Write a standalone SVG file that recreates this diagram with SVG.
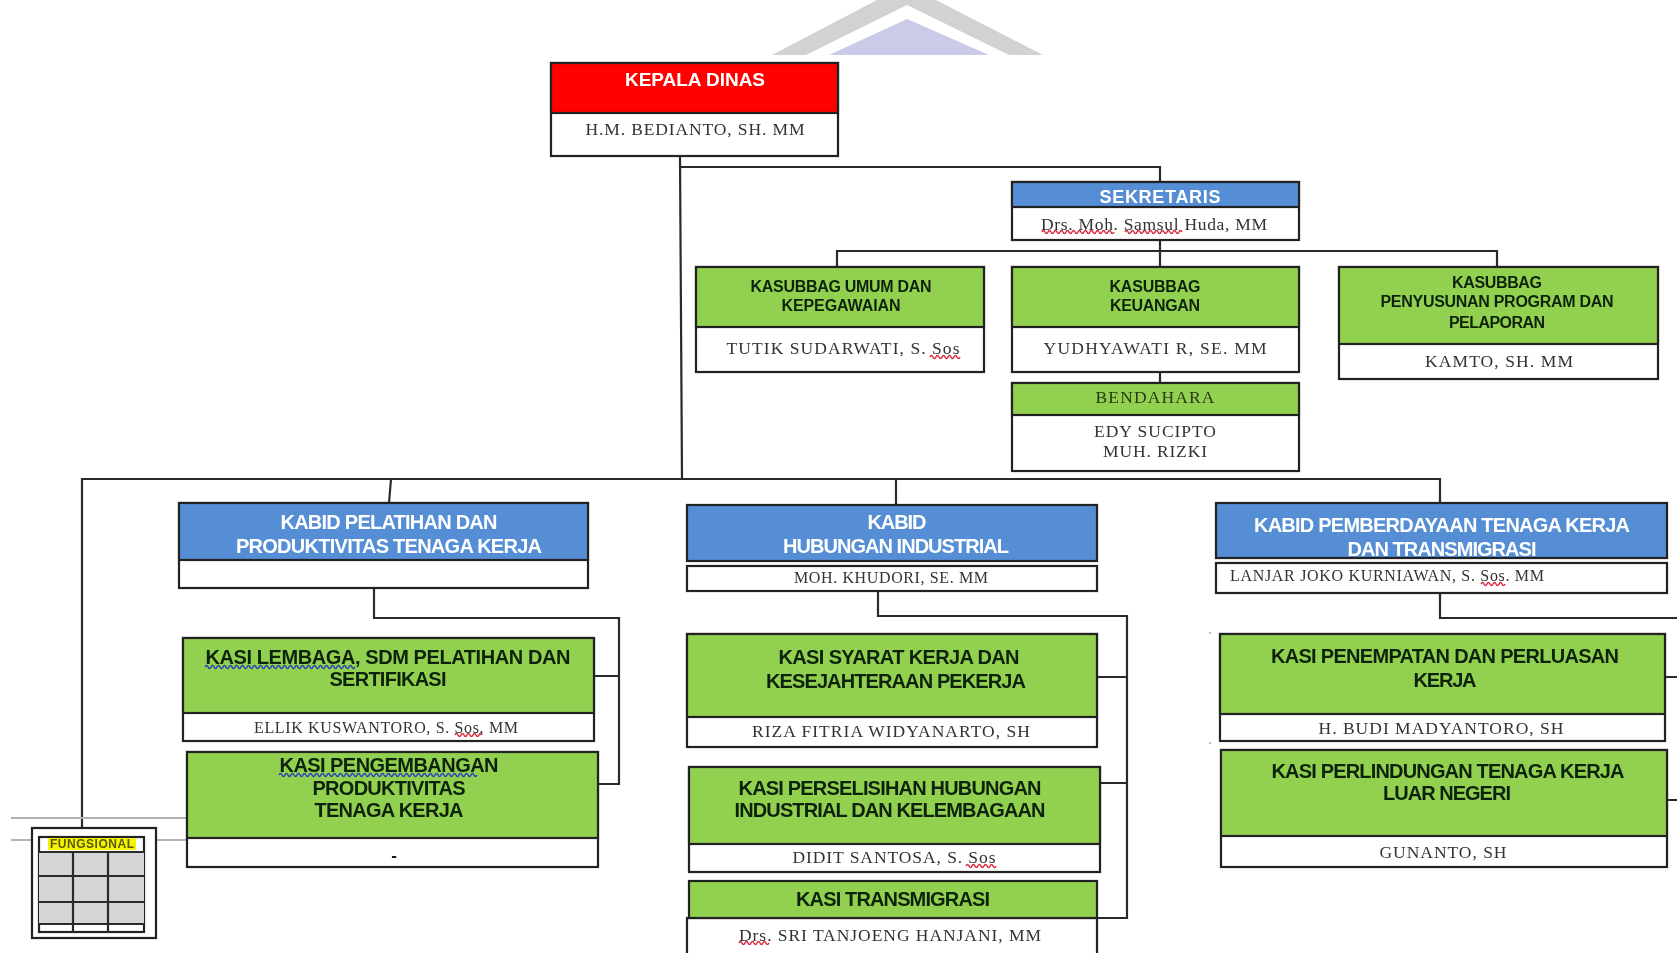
<svg xmlns="http://www.w3.org/2000/svg" width="1677" height="953" viewBox="0 0 1677 953">
<style>
text{text-anchor:middle}
.b{font-family:"Liberation Sans",Arial,sans-serif;font-weight:700}
.s{font-family:"Liberation Serif","Times New Roman",serif;fill:#333;font-size:17.5px;font-weight:400;stroke:none}
.w{fill:#fff;font-size:20px}
.k{fill:#10240a;font-size:20px}
.k2{fill:#10240a;font-size:16px}
.box{stroke:#222;stroke-width:2.2;fill:#fff}
.g{fill:#92d050}.bl{fill:#558ed5}.r{fill:#f00}
.c{fill:none;stroke:#2a2a2a;stroke-width:2.2}
.rw{fill:none;stroke:#d8283c;stroke-width:1.5}
.bw{fill:none;stroke:#2a3fc0;stroke-width:1.5}
</style>
<defs><filter id="soft" x="0" y="0" width="1677" height="953" filterUnits="userSpaceOnUse"><feGaussianBlur stdDeviation="0.7"/></filter></defs>
<rect width="1677" height="953" fill="#fff"/>
<g filter="url(#soft)">
<g id="logo">
<polygon points="772,55 877,0 936,0 1043,55 1009,55 907,5 806,55" fill="#d2d2d2"/>
<polygon points="829,55 907,19 989,55" fill="#c9cbe9"/>
</g>
<g id="connectors">
<path class="c" d="M680 156L682 479M680 167H1160V182"/>
<path class="c" d="M1160 240V267M837 267V251H1497V267M1160 372V383"/>
<path class="c" d="M82 837V479H1440V503M391 479L389 503M896 479V505"/>
<path class="c" d="M374 588V618H619V784H598M594 676H619"/>
<path class="c" d="M878 591V616H1127V918H1097M1097 677H1127M1100 783H1127"/>
<path class="c" d="M1440 593V618H1677M1661 677H1677M1667 800H1677"/>
<path d="M11 818H187M11 840H32M156 840H187" fill="none" stroke="#b4b4b4" stroke-width="2"/>
<circle cx="1210" cy="633" r="1" fill="#aaa"/><circle cx="1210" cy="743" r="1" fill="#aaa"/>
</g>
<g id="kepala"><rect class="box" x="551" y="63" width="287" height="93"/><rect class="box r" x="551" y="63" width="287" height="50"/>
<text class="b w" x="695" y="86" style="font-size:19px" textLength="140">KEPALA DINAS</text><text class="s" x="695" y="135" textLength="219">H.M. BEDIANTO, SH. MM</text></g>
<g id="sekretaris"><rect class="box" x="1012" y="182" width="287" height="58"/><rect class="box bl" x="1012" y="182" width="287" height="25"/>
<text class="b w" x="1160" y="203" style="font-size:18px" textLength="121">SEKRETARIS</text><text class="s" x="1154" y="230" textLength="226">Drs. Moh. Samsul Huda, MM</text>
<path class="rw" d="M1042 232q1.5 -3 3 0t3 0t3 0t3 0t3 0t3 0t3 0t3 0t3 0t3 0t3 0t3 0t3 0t3 0t3 0t3 0t3 0t3 0t3 0t3 0t3 0t3 0t3 0t3 0"/><path class="rw" d="M1125 232q1.5 -3 3 0t3 0t3 0t3 0t3 0t3 0t3 0t3 0t3 0t3 0t3 0t3 0t3 0t3 0t3 0t3 0t3 0t3 0t3 0"/></g>
<g id="kasubbag-umum"><rect class="box" x="696" y="267" width="288" height="105"/><rect class="box g" x="696" y="267" width="288" height="60"/>
<text class="b k2" x="841" y="292" textLength="181">KASUBBAG UMUM DAN</text><text class="b k2" x="841" y="311" textLength="119">KEPEGAWAIAN</text><text class="s" x="843" y="354" textLength="233">TUTIK SUDARWATI, S. Sos</text>
<path class="rw" d="M930 357q1.5 -3 3 0t3 0t3 0t3 0t3 0t3 0t3 0t3 0t3 0t3 0"/></g>
<g id="kasubbag-keuangan"><rect class="box" x="1012" y="267" width="287" height="105"/><rect class="box g" x="1012" y="267" width="287" height="60"/>
<text class="b k2" x="1155" y="292" textLength="91">KASUBBAG</text><text class="b k2" x="1155" y="311" textLength="90">KEUANGAN</text><text class="s" x="1155" y="354" textLength="223">YUDHYAWATI R, SE. MM</text></g>
<g id="kasubbag-program"><rect class="box" x="1339" y="267" width="319" height="112"/><rect class="box g" x="1339" y="267" width="319" height="77"/>
<text class="b k2" x="1497" y="288" textLength="90">KASUBBAG</text><text class="b k2" x="1497" y="307" textLength="233">PENYUSUNAN PROGRAM DAN</text><text class="b k2" x="1497" y="328" textLength="96">PELAPORAN</text><text class="s" x="1499" y="367" textLength="148">KAMTO, SH. MM</text></g>
<g id="bendahara"><rect class="box" x="1012" y="383" width="287" height="88"/><rect class="box g" x="1012" y="383" width="287" height="32"/>
<text class="s" x="1155" y="403" textLength="119" style="fill:#2a3a18">BENDAHARA</text><text class="s" x="1155" y="437" textLength="122">EDY SUCIPTO</text><text class="s" x="1155" y="457" textLength="104">MUH. RIZKI</text></g>
<g id="kabid-pelatihan"><rect class="box" x="179" y="503" width="409" height="85"/><rect class="box bl" x="179" y="503" width="409" height="57"/>
<text class="b w" x="389" y="529" textLength="217">KABID PELATIHAN DAN</text><text class="b w" x="389" y="553" textLength="306">PRODUKTIVITAS TENAGA KERJA</text></g>
<g id="kabid-hi"><rect class="box bl" x="687" y="505" width="410" height="56"/><rect class="box" x="687" y="566" width="410" height="25"/>
<text class="b w" x="897" y="529" textLength="59">KABID</text><text class="b w" x="896" y="553" textLength="226">HUBUNGAN INDUSTRIAL</text><text class="s" x="891" y="583" style="font-size:16px" textLength="194">MOH. KHUDORI, SE. MM</text></g>
<g id="kabid-pemberdayaan"><rect class="box bl" x="1216" y="503" width="451" height="55"/><rect class="box" x="1216" y="563" width="451" height="30"/>
<text class="b w" x="1442" y="532" textLength="376">KABID PEMBERDAYAAN TENAGA KERJA</text><text class="b w" x="1442" y="556" textLength="189">DAN TRANSMIGRASI</text><text class="s" x="1387" y="581" style="font-size:16px" textLength="314">LANJAR JOKO KURNIAWAN, S. Sos. MM</text>
<path class="rw" d="M1481 584q1.5 -3 3 0t3 0t3 0t3 0t3 0t3 0t3 0t3 0"/></g>
<g id="kasi-lembaga"><rect class="box" x="183" y="638" width="411" height="103"/><rect class="box g" x="183" y="638" width="411" height="75"/>
<text class="b k" x="388" y="664" textLength="365">KASI LEMBAGA, SDM  PELATIHAN DAN</text><text class="b k" x="388" y="686" textLength="117">SERTIFIKASI</text><text class="s" x="386" y="733" style="font-size:16px" textLength="264">ELLIK KUSWANTORO, S. Sos, MM</text>
<path class="bw" d="M205 667q1.5 -3 3 0t3 0t3 0t3 0t3 0t3 0t3 0t3 0t3 0t3 0t3 0t3 0t3 0t3 0t3 0t3 0t3 0t3 0t3 0t3 0t3 0t3 0t3 0t3 0t3 0t3 0t3 0t3 0t3 0t3 0t3 0t3 0t3 0t3 0t3 0t3 0t3 0t3 0t3 0t3 0t3 0t3 0t3 0t3 0t3 0t3 0t3 0t3 0t3 0t3 0"/>
<path class="rw" d="M455 735q1.5 -3 3 0t3 0t3 0t3 0t3 0t3 0t3 0t3 0t3 0"/></g>
<g id="kasi-pengembangan"><rect class="box" x="187" y="752" width="411" height="115"/><rect class="box g" x="187" y="752" width="411" height="86"/>
<text class="b k" x="389" y="772" textLength="219">KASI PENGEMBANGAN</text><text class="b k" x="389" y="795" textLength="153">PRODUKTIVITAS</text><text class="b k" x="389" y="817" textLength="149">TENAGA KERJA</text><text class="b k" x="394" y="861" style="font-size:17px">-</text>
<path class="bw" d="M279 775q1.5 -3 3 0t3 0t3 0t3 0t3 0t3 0t3 0t3 0t3 0t3 0t3 0t3 0t3 0t3 0t3 0t3 0t3 0t3 0t3 0t3 0t3 0t3 0t3 0t3 0t3 0t3 0t3 0t3 0t3 0t3 0t3 0t3 0t3 0t3 0t3 0t3 0t3 0t3 0t3 0t3 0t3 0t3 0t3 0t3 0t3 0t3 0t3 0t3 0t3 0t3 0t3 0t3 0t3 0t3 0t3 0t3 0t3 0t3 0t3 0t3 0t3 0t3 0t3 0t3 0t3 0t3 0"/></g>
<g id="fungsional"><rect class="box" x="32" y="828" width="124" height="110"/><rect class="box" x="39" y="837" width="105" height="95"/>
<rect x="48" y="838" width="88" height="12" fill="#f4f400"/><text class="b" x="92" y="848" font-size="12" fill="#5a5a10" textLength="84">FUNGSIONAL</text>
<rect x="39" y="852" width="105" height="72" fill="#d6d6d6"/>
<path class="c" d="M39 852H144M39 876H144M39 902H144M39 924H144M73 852V932M108 852V932"/></g>
<g id="kasi-syarat"><rect class="box" x="687" y="634" width="410" height="113"/><rect class="box g" x="687" y="634" width="410" height="83"/>
<text class="b k" x="899" y="664" textLength="241">KASI SYARAT KERJA DAN</text><text class="b k" x="896" y="688" textLength="260">KESEJAHTERAAN PEKERJA</text><text class="s" x="891" y="737" textLength="278">RIZA FITRIA WIDYANARTO, SH</text></g>
<g id="kasi-perselisihan"><rect class="box" x="689" y="767" width="411" height="105"/><rect class="box g" x="689" y="767" width="411" height="77"/>
<text class="b k" x="890" y="795" textLength="303">KASI PERSELISIHAN HUBUNGAN</text><text class="b k" x="890" y="817" textLength="311">INDUSTRIAL DAN KELEMBAGAAN</text><text class="s" x="894" y="863" textLength="203">DIDIT SANTOSA, S. Sos</text>
<path class="rw" d="M966 866q1.5 -3 3 0t3 0t3 0t3 0t3 0t3 0t3 0t3 0t3 0t3 0"/></g>
<g id="kasi-transmigrasi"><rect class="box" x="687" y="918" width="410" height="45"/><rect class="box g" x="689" y="881" width="408" height="37"/>
<text class="b k" x="893" y="906" textLength="194">KASI TRANSMIGRASI</text><text class="s" x="890" y="941" textLength="302">Drs. SRI TANJOENG HANJANI, MM</text>
<path class="rw" d="M739 943q1.5 -3 3 0t3 0t3 0t3 0t3 0t3 0t3 0t3 0t3 0t3 0"/></g>
<g id="kasi-penempatan"><rect class="box" x="1220" y="634" width="445" height="107"/><rect class="box g" x="1220" y="634" width="445" height="80"/>
<text class="b k" x="1445" y="663" textLength="348">KASI PENEMPATAN DAN PERLUASAN</text><text class="b k" x="1445" y="687" textLength="63">KERJA</text><text class="s" x="1441" y="734" textLength="245">H. BUDI MADYANTORO, SH</text></g>
<g id="kasi-perlindungan"><rect class="box" x="1221" y="750" width="446" height="117"/><rect class="box g" x="1221" y="750" width="446" height="86"/>
<text class="b k" x="1448" y="778" textLength="353">KASI PERLINDUNGAN TENAGA KERJA</text><text class="b k" x="1447" y="800" textLength="128">LUAR NEGERI</text><text class="s" x="1443" y="858" textLength="127">GUNANTO, SH</text></g>
</g>
</svg>
